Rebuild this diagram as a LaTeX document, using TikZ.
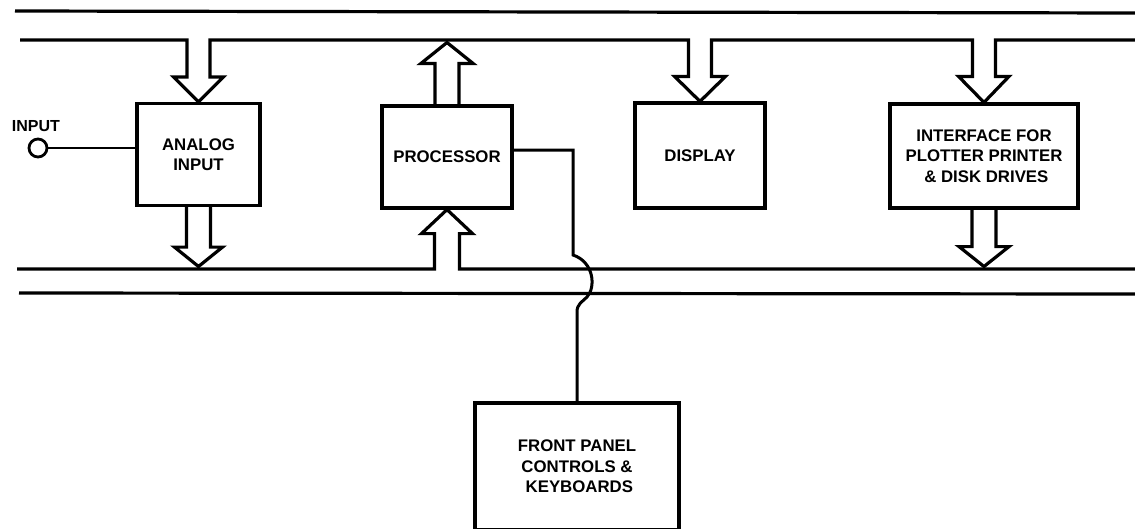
\documentclass[tikz,border=0pt]{standalone}
\usepackage{fontspec}
\setmainfont{Liberation Sans}
\usetikzlibrary{calc}
\begin{document}
\begin{tikzpicture}[x=1pt,y=-1pt,line join=miter,
  bus/.style={line width=3.2pt},
  wire/.style={line width=3pt},
  lbl/.style={font=\bfseries\fontsize{16.8}{20.5}\selectfont,align=center,inner sep=0pt},
  block/.style={draw,line width=3.2pt,lbl}]
\useasboundingbox (0,0) rectangle (1135,528);
% blocks
\node[block,minimum width=123pt,minimum height=102pt] (ai) at (198.5,154.5) {ANALOG\\INPUT};
\node[block,minimum width=130pt,minimum height=102pt] (proc) at (447,157) {PROCESSOR};
\node[block,minimum width=130pt,minimum height=105pt] (disp) at (700,155.5) {DISPLAY};
\node[block,minimum width=188pt,minimum height=104pt] (intf) at (984,156) {INTERFACE FOR\\PLOTTER PRINTER\\\ \& DISK DRIVES};
\node[block,minimum width=204pt,minimum height=127pt] (fp) at (577,466.5) {FRONT PANEL\\CONTROLS \&\\\ KEYBOARDS};
% input
\node[draw,circle,line width=2.8pt,minimum size=18pt,inner sep=0pt] (in) at (38,148) {};
\node[lbl,font=\bfseries\fontsize{16}{20}\selectfont] (inlbl) at (36,126) {INPUT};
\draw[line width=2.2pt] (in.east) -- (in -| ai.west);
% bus lines
\coordinate (L1a) at (15,11);
\coordinate (L1b) at (1135,13);
\coordinate (L2) at (20,40);
\coordinate (L2b) at (1135,40);
\coordinate (L3) at (17,269);
\coordinate (L3b) at (1135,269);
\coordinate (L4a) at (19,293);
\coordinate (L4b) at (1135,294);
\draw[bus] (L1a) -- (L1b);
\draw[bus] (L4a) -- (L4b);
% upper bus lower line with down arrows
\draw[bus] (L2)
  -- ($(ai.north|-L2)+(-11.5,0)$) -- ($(ai.north)+(-11.5,-25)$) -- ($(ai.north)+(-25,-25)$)
  -- (ai.north) -- ($(ai.north)+(25,-25)$) -- ($(ai.north)+(11.5,-25)$) -- ($(ai.north|-L2)+(11.5,0)$)
  -- ($(disp.north|-L2)+(-11.5,0)$) -- ($(disp.north)+(-11.5,-25)$) -- ($(disp.north)+(-25.5,-25)$)
  -- (disp.north) -- ($(disp.north)+(25.5,-25)$) -- ($(disp.north)+(11.5,-25)$) -- ($(disp.north|-L2)+(11.5,0)$)
  -- ($(intf.north|-L2)+(-11.5,0)$) -- ($(intf.north)+(-11.5,-26)$) -- ($(intf.north)+(-25.5,-26)$)
  -- (intf.north) -- ($(intf.north)+(25,-26)$) -- ($(intf.north)+(11.5,-26)$) -- ($(intf.north|-L2)+(11.5,0)$)
  -- (L2b);
% processor up arrow to upper bus
\draw[bus] ($(proc.north)+(-12,0)$) -- ($(proc.north)+(-12,-41)$) -- ($(proc.north)+(-26,-41)$)
  -- ($(proc.north|-L2)+(0,2.5)$) -- ($(proc.north)+(26,-41)$) -- ($(proc.north)+(12,-41)$) -- ($(proc.north)+(12,0)$);
% lower bus upper line with processor up arrow
\draw[bus] (L3)
  -- ($(proc.south|-L3)+(-12.5,0)$) -- ($(proc.south)+(-12.5,24)$) -- ($(proc.south)+(-25.5,24)$)
  -- (proc.south) -- ($(proc.south)+(25.5,24)$) -- ($(proc.south)+(12.5,24)$) -- ($(proc.south|-L3)+(12.5,0)$)
  -- (L3b);
% down arrows to lower bus
\draw[bus] ($(ai.south)+(-12,0)$) -- ($(ai.south)+(-12,40)$) -- ($(ai.south)+(-24,40)$)
  -- ($(ai.south|-L3)+(0,-2.5)$) -- ($(ai.south)+(24,40)$) -- ($(ai.south)+(12,40)$) -- ($(ai.south)+(12,0)$);
\draw[bus] ($(intf.south)+(-12,0)$) -- ($(intf.south)+(-12,37)$) -- ($(intf.south)+(-25,37)$)
  -- ($(intf.south|-L3)+(0,-2.5)$) -- ($(intf.south)+(25,37)$) -- ($(intf.south)+(12,37)$) -- ($(intf.south)+(12,0)$);
% processor to front panel wire, hopping over the lower bus
\coordinate (w1) at (573,255);
\draw[wire] ([yshift=7pt]proc.east) -| (w1)
  .. controls (594,262) and (596,287) .. (587,297)
  .. controls (582,302) and (577,304) .. (577,312) -- (fp.north);
\end{tikzpicture}
\end{document}
